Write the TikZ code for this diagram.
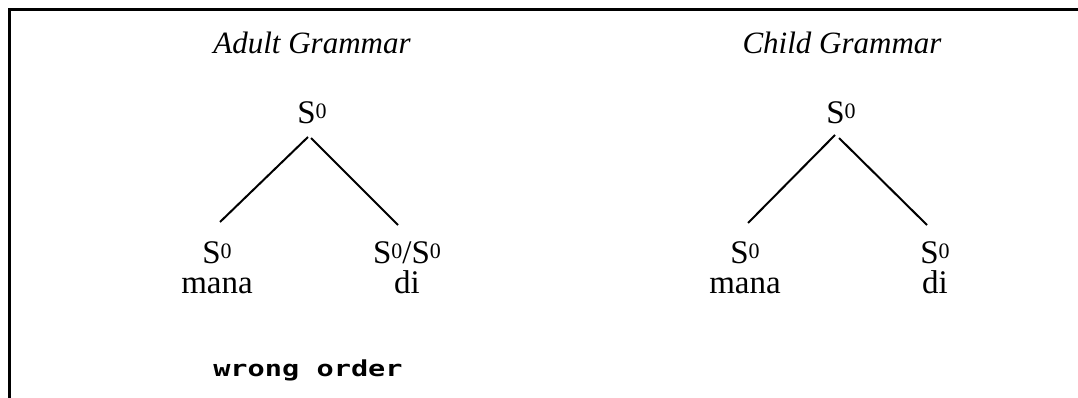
\documentclass[tikz,border=0pt]{standalone}
\usepackage{fontspec}
\setmainfont{Liberation Serif}
\newfontfamily\pixfont{DejaVu Sans Mono}
\newcommand\Szero{S\raisebox{5pt}{\fontsize{22}{22}\selectfont 0}}
\begin{document}
\begin{tikzpicture}[x=1pt,y=-1pt,
  title/.style={anchor=base,inner sep=0pt,font=\fontsize{31}{31}\selectfont\itshape},
  cat/.style={anchor=base,inner sep=0pt,font=\fontsize{33}{33}\selectfont},
  leaf/.style={anchor=south,inner sep=0pt,align=center,font=\fontsize{33}{29.5}\selectfont},
  branch/.style={line width=2pt},
  frameline/.style={line width=3pt}]
\useasboundingbox (0,0) rectangle (1078,398);
% frame
\coordinate (fbl) at (9.5,398);
\coordinate (ftl) at (9.5,9.5);
\coordinate (ftr) at (1078,9.5);
\draw[frameline] (fbl) -- (ftl) -- (ftr);
% titles
\node[title] (tA) at (312,54) {Adult Grammar};
\node[title] (tC) at (842,54) {Child Grammar};
% adult tree
\node[cat] (A0) at (312,124) {\Szero};
\node[leaf] (A1) at (217,294) {\Szero\\mana};
\node[leaf] (A2) at (407,294) {\Szero/\Szero\\di};
\coordinate (A0l) at (308,137);
\coordinate (A0r) at (311,138);
\coordinate (A1t) at (220,222);
\coordinate (A2t) at (398,225);
\draw[branch] (A0l) -- (A1t);
\draw[branch] (A0r) -- (A2t);
% child tree
\node[cat] (C0) at (841,124) {\Szero};
\node[leaf] (C1) at (745,294) {\Szero\\mana};
\node[leaf] (C2) at (935,294) {\Szero\\di};
\coordinate (C0l) at (835,135);
\coordinate (C0r) at (839,138);
\coordinate (C1t) at (748,223);
\coordinate (C2t) at (927,225);
\draw[branch] (C0l) -- (C1t);
\draw[branch] (C0r) -- (C2t);
% note
\node[anchor=base west,inner sep=0pt,xscale=1.3,font=\fontsize{22}{22}\selectfont\pixfont\bfseries] (note) at (213,376) {wrong order};
\end{tikzpicture}
\end{document}
